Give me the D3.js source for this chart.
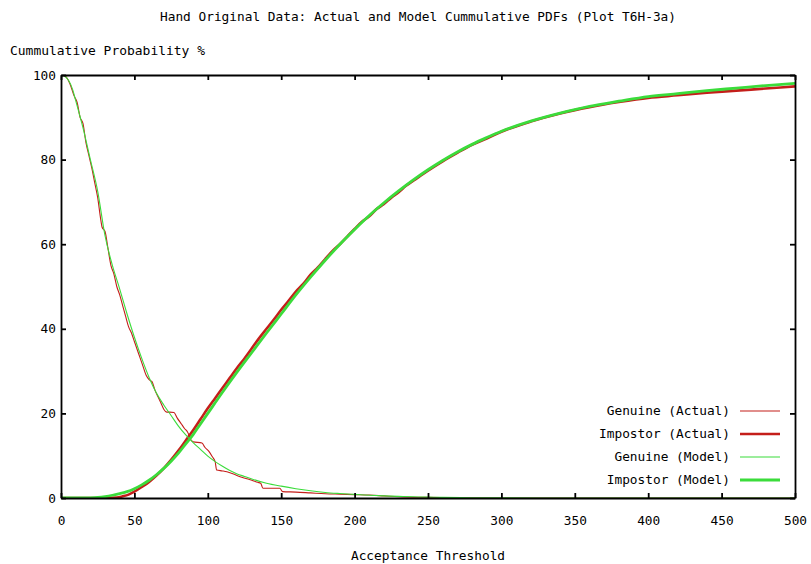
<!DOCTYPE html>
<html><head><meta charset="utf-8">
<script src="https://cdn.jsdelivr.net/npm/d3@7"></script>
<style>
html,body{margin:0;padding:0;background:#fff;}
text{font-family:"DejaVu Sans Mono",monospace;fill:#000;}
</style></head>
<body><svg id="c" width="811" height="564"></svg>
<script>
const titleText = "Hand Original Data: Actual and Model Cummulative PDFs (Plot T6H-3a)";
const yLabelText = "Cummulative Probability %";
const xLabelText = "Acceptance Threshold";
const xTicks = [0,50,100,150,200,250,300,350,400,450,500];
const yTicks = [0,20,40,60,80,100];
const seriesNames = ["Genuine (Actual)","Impostor (Actual)","Genuine (Model)","Impostor (Model)"];

// Genuine (Actual): threshold, cumulative %
const genuineActualX = [0,3,6,9,11,13,15,17,19,21,23,25,27,28,30,32,34,36,38,40,42,44,46,48,50,52,54,56,58,60,62,64,66,68,70,72,74,77,79,82,84,86.5,88,90,96,98,101,103,105,106,110,113,118,122,126,130,134,136,137.6,149,151,160,170,180,190,200,210,220,230,250,270,300,500];
const genuineActualY = [100,99.7,98,95,93.5,90,88.5,84,81,78,74.5,71,66,64,63,59,55,53,50,48,45.5,43,40.5,39,37,35,33,31,29,28,27.5,25.5,24,22.5,21,20.3,20.3,20.2,19,17.5,16.5,15.4,14,13.3,13,12,10.9,9.8,8.6,6.6,6.4,6.2,5.6,5,4.6,4.2,3.7,3.5,2.3,2.3,1.5,1.4,1.2,1.0,0.9,0.8,0.7,0.5,0.3,0.15,0.05,0,0];

// Impostor (Actual)
const impostorActualX = [0,30,38,42,46,50,55,60,65,70,75,80,85,90,95,100,105,110,115,120,125,130,135,140,145,150,155,160,165,170,175,180,185,190,195,200,205,210,215,220,225,230,235,240,250,260,270,280,290,300,320,340,360,380,400,420,440,460,480,500];
const impostorActualY = [0,0,0.1,0.4,0.8,1.5,2.6,3.8,5.3,7,9,11.2,13.6,16,18.6,21.2,23.6,26,28.4,30.8,33,35.4,37.8,40,42.2,44.5,46.6,48.8,50.6,52.8,54.5,56.5,58.4,60,61.8,63.6,65.3,66.6,68.3,69.5,71,72.3,73.8,75,77.4,79.6,81.6,83.5,85,86.6,89,90.9,92.4,93.6,94.6,95.2,95.8,96.3,96.8,97.3];

// Genuine (Model)
const genuineModelX = [0,2,5,8,10,15,20,25,30,35,40,45,50,55,60,65,70,75,80,85,90,95,100,105,110,115,120,125,130,140,150,160,170,180,190,200,210,220,230,240,250,260,280,300,350,400,450,500];
const genuineModelY = [100,99.8,98.8,96.5,94,87.5,80,72.5,62,55,49.4,43.5,38,33,28.5,24.8,22,19.5,17,14.9,13.1,11.5,9.9,8.6,7.5,6.5,5.7,5.1,4.5,3.5,2.8,2.2,1.7,1.3,1.05,0.85,0.65,0.5,0.38,0.28,0.2,0.14,0.07,0.03,0,0,0,0];

// Impostor (Model)
const impostorModelX = [0,15,20,25,30,35,40,45,50,55,60,65,70,75,80,85,90,95,100,110,120,130,140,150,160,170,180,190,200,210,220,230,240,250,260,270,280,290,300,320,340,360,380,400,420,440,460,480,500];
const impostorModelY = [0,0,0.05,0.15,0.35,0.65,1.05,1.5,2.2,3.1,4.2,5.5,7,8.7,10.6,12.8,15,17.5,20,25,29.8,34.4,39,43.5,48,52.2,56.2,60,63.5,66.8,69.8,72.6,75.2,77.6,79.8,81.8,83.6,85.2,86.7,89.1,91,92.6,93.8,94.9,95.6,96.3,96.9,97.5,98];

const red = "#c41e1a", green = "#3bdc3b";
const styles = [
  {color: red, width: 1.1},
  {color: red, width: 2.6},
  {color: green, width: 1.1},
  {color: green, width: 2.8}
];

const svg = d3.select("#c");
const L = 61, R = 795, T = 75, B = 498;
const x = d3.scaleLinear().domain([0,500]).range([L,R]);
const y = d3.scaleLinear().domain([0,100]).range([B,T]);

svg.append("defs").append("clipPath").attr("id","clip")
  .append("rect").attr("x",L).attr("y",T).attr("width",R-L).attr("height",B-T);

const series = [
  d3.zip(genuineActualX, genuineActualY),
  d3.zip(impostorActualX, impostorActualY),
  d3.zip(genuineModelX, genuineModelY),
  d3.zip(impostorModelX, impostorModelY)
];
const line = d3.line().x(d=>x(d[0])).y(d=>y(d[1])).curve(d3.curveMonotoneX);
const g = svg.append("g").attr("clip-path","url(#clip)");
series.forEach((s,i)=>{
  g.append("path").datum(s).attr("d",line).attr("fill","none")
   .attr("stroke",styles[i].color).attr("stroke-width",styles[i].width)
   .attr("stroke-linejoin","round");
});

const fs = "12.8px";
// axes
const axB = svg.append("g").attr("transform",`translate(0,${B})`)
  .call(d3.axisBottom(x).tickValues(xTicks).tickSize(-5).tickSizeOuter(0).tickPadding(18));
const axL = svg.append("g").attr("transform",`translate(${L},0)`)
  .call(d3.axisLeft(y).tickValues(yTicks).tickSize(-5).tickSizeOuter(0).tickPadding(5));
const axT = svg.append("g").attr("transform",`translate(0,${T})`)
  .call(d3.axisTop(x).tickValues(xTicks).tickSize(-5).tickSizeOuter(0).tickFormat(""));
const axR = svg.append("g").attr("transform",`translate(${R},0)`)
  .call(d3.axisRight(y).tickValues(yTicks).tickSize(-5).tickSizeOuter(0).tickFormat(""));
[axB,axL,axT,axR].forEach(a=>{
  a.selectAll("path.domain").attr("stroke","#000").attr("stroke-width",1.8);
  a.selectAll(".tick line").attr("stroke","#000").attr("stroke-width",1.8);
  a.selectAll("text").style("font-family",'"DejaVu Sans Mono",monospace').style("font-size",fs).attr("fill","#000");
});

// titles
svg.append("text").attr("x",418).attr("y",21).attr("text-anchor","middle")
  .style("font-size",fs).attr("textLength",516).attr("lengthAdjust","spacingAndGlyphs").text(titleText);
svg.append("text").attr("x",10).attr("y",55)
  .style("font-size",fs).attr("textLength",195).attr("lengthAdjust","spacingAndGlyphs").text(yLabelText);
svg.append("text").attr("x",(L+R)/2).attr("y",560).attr("text-anchor","middle")
  .style("font-size",fs).text(xLabelText);

// legend
const lg = svg.append("g");
seriesNames.forEach((n,i)=>{
  const ly = 411 + i*23;
  lg.append("text").attr("x",730).attr("y",ly).attr("dy","0.35em").attr("text-anchor","end")
    .style("font-size",fs).text(n);
  lg.append("line").attr("x1",740).attr("x2",780).attr("y1",ly).attr("y2",ly)
    .attr("stroke",styles[i].color).attr("stroke-width",styles[i].width);
});
</script></body></html>
